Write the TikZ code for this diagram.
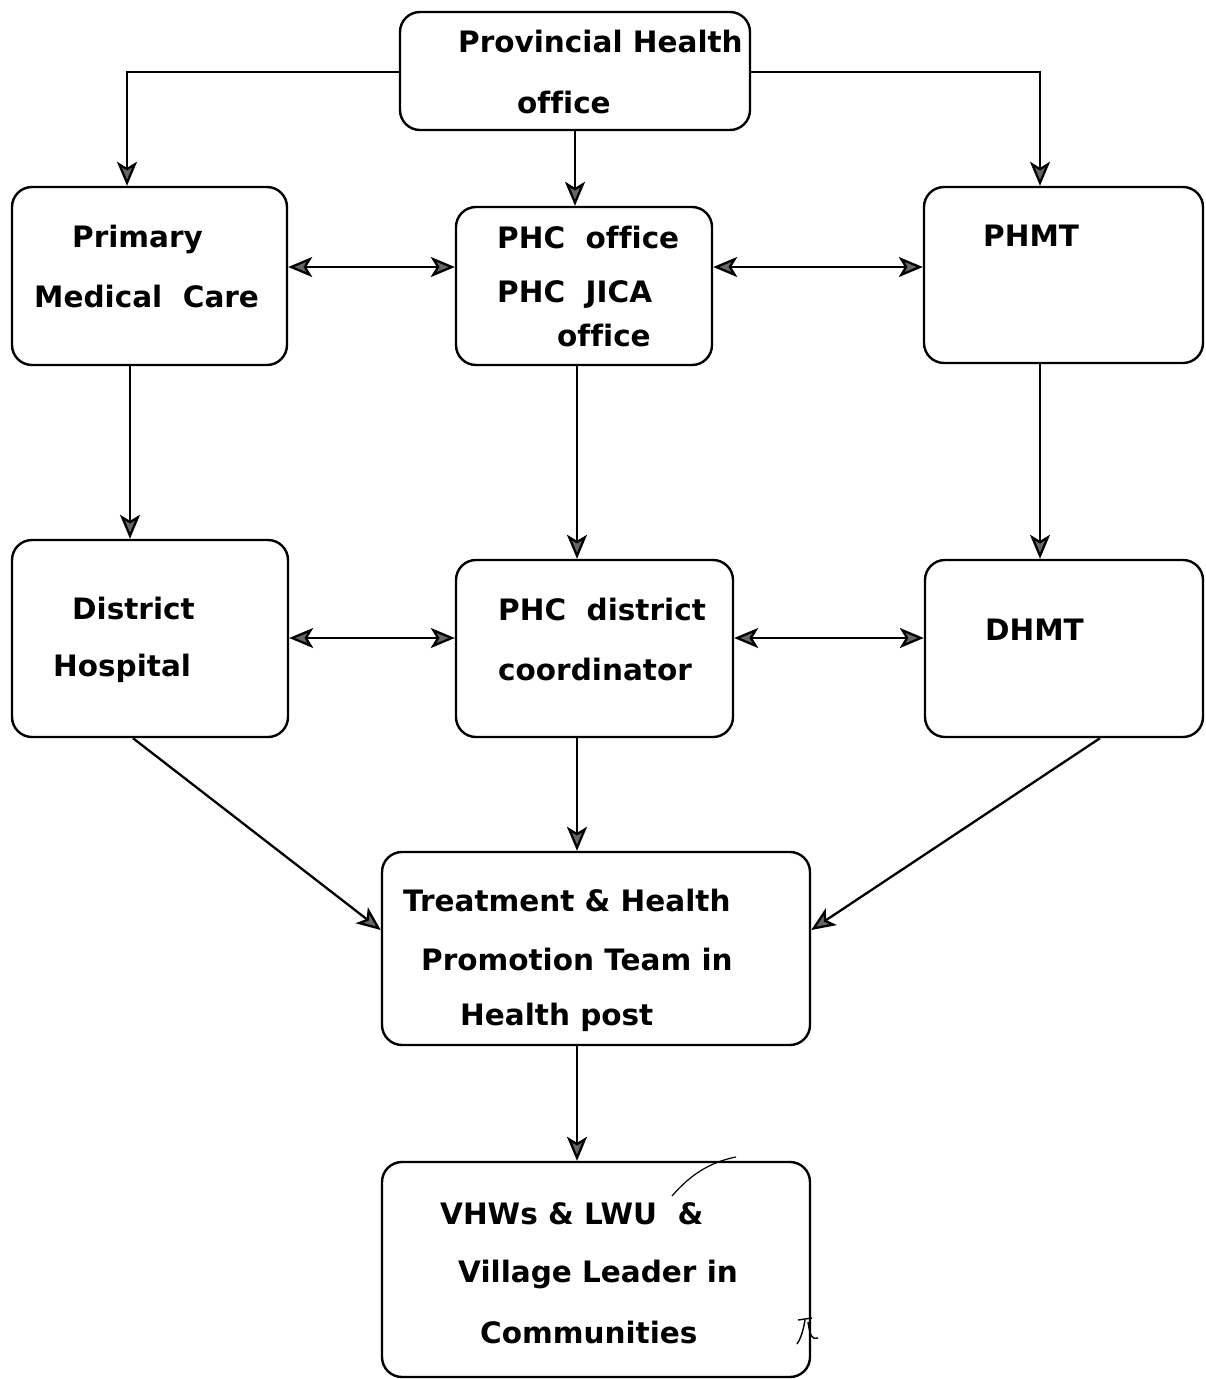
\documentclass[tikz,border=0pt]{standalone}
\usepackage{fontspec}
\setmainfont{DejaVu Sans}[BoldFont={DejaVu Sans Bold},Ligatures=NoCommon]
\usetikzlibrary{arrows.meta}
\begin{document}
\begin{tikzpicture}[x=1pt,y=-1pt,
  >={Stealth[length=24pt,width=20pt,inset=6pt,fill=black!60]},
  box/.style={draw=black, line width=2.4pt, rounded corners=20pt, rectangle, inner sep=0pt},
  lbl/.style={anchor=west, inner sep=0pt, font=\fontsize{29.5}{34}\selectfont\bfseries},
  conn/.style={draw=black, line width=2.3pt},
  tip/.style={->},
  dtip/.style={<->}
]
\useasboundingbox (0,0) rectangle (1205,1379);
\fill[white] (0,0) rectangle (1205,1379);

% boxes
\node[box, minimum width=350pt, minimum height=118pt] (pho) at (575,71) {};
\node[box, minimum width=275pt, minimum height=178pt] (pmc) at (149.5,276) {};
\node[box, minimum width=256pt, minimum height=158pt] (phco) at (584,286) {};
\node[box, minimum width=279pt, minimum height=176pt] (phmt) at (1063.5,275) {};
\node[box, minimum width=276pt, minimum height=197pt] (dh) at (150,638.5) {};
\node[box, minimum width=277pt, minimum height=177pt] (phcd) at (594.5,648.5) {};
\node[box, minimum width=278pt, minimum height=177pt] (dhmt) at (1064,648.5) {};
\node[box, minimum width=428pt, minimum height=193pt] (thp) at (596,948.5) {};
\node[box, minimum width=428pt, minimum height=215pt] (vhw) at (596,1269.5) {};

% labels
\node[lbl] (t1a) at (458,42) {Provincial Health};
\node[lbl] (t1b) at (517,102) {office};
\node[lbl] (t2a) at (72,239) {Primary};
\node[lbl] (t2b) at (34,296) {Medical~~Care};
\node[lbl] (t3a) at (497,237) {PHC~~office};
\node[lbl] (t3b) at (497,295) {PHC~~JICA};
\node[lbl] (t3c) at (557,335) {office};
\node[lbl] (t4a) at (983,236) {PHMT};
\node[lbl] (t5a) at (72,608) {District};
\node[lbl] (t5b) at (53,668) {Hospital};
\node[lbl] (t6a) at (498,609) {PHC~~district};
\node[lbl] (t6b) at (498,669) {coordinator};
\node[lbl] (t7a) at (985,630) {DHMT};
\node[lbl] (t8a) at (403,900) {Treatment \& Health};
\node[lbl] (t8b) at (421,959) {Promotion Team in};
\node[lbl] (t8c) at (460,1017) {Health post};
\node[lbl] (t9a) at (440,1214) {VHWs \& LWU~~\&};
\node[lbl] (t9b) at (458,1274) {Village Leader in};
\node[lbl] (t9c) at (480,1332) {Communities};

% connectors
\draw[conn,tip] (pho.west |- 0,72) -| (pmc.north -| 127,0);
\draw[conn,tip] (pho.east |- 0,72) -| (phmt.north -| 1040,0);
\draw[conn,tip] (pho.south) -- (phco.north -| pho.south);
\draw[conn,dtip] (pmc.east |- 0,267) -- (phco.west |- 0,267);
\draw[conn,dtip] (phco.east |- 0,267) -- (phmt.west |- 0,267);
\draw[conn,tip] (pmc.south -| 130,0) -- (dh.north -| 130,0);
\draw[conn,tip] (phco.south -| 577,0) -- (phcd.north -| 577,0);
\draw[conn,tip] (phmt.south -| 1040,0) -- (dhmt.north -| 1040,0);
\draw[conn,dtip] (dh.east |- 0,638) -- (phcd.west |- 0,638);
\draw[conn,dtip] (phcd.east |- 0,638) -- (dhmt.west |- 0,638);
\draw[conn,tip] (dh.south -| 133,0) -- (thp.west |- 0,930);
\draw[conn,tip] (phcd.south -| 577,0) -- (thp.north -| 577,0);
\draw[conn,tip] (dhmt.south -| 1100,0) -- (thp.east |- 0,930);
\draw[conn,tip] (thp.south -| 577,0) -- (vhw.north -| 577,0);

% handwritten marks
\draw[line width=1.2pt] (672,1196) .. controls (690,1175) and (710,1162) .. (736,1157);
\draw[line width=1.4pt] (798,1320) -- (812,1318);
\draw[line width=1.4pt] (805,1320) .. controls (803,1332) and (800,1340) .. (797,1344);
\draw[line width=1.4pt] (808,1322) .. controls (810,1336) and (812,1340) .. (818,1338);
\end{tikzpicture}
\end{document}
